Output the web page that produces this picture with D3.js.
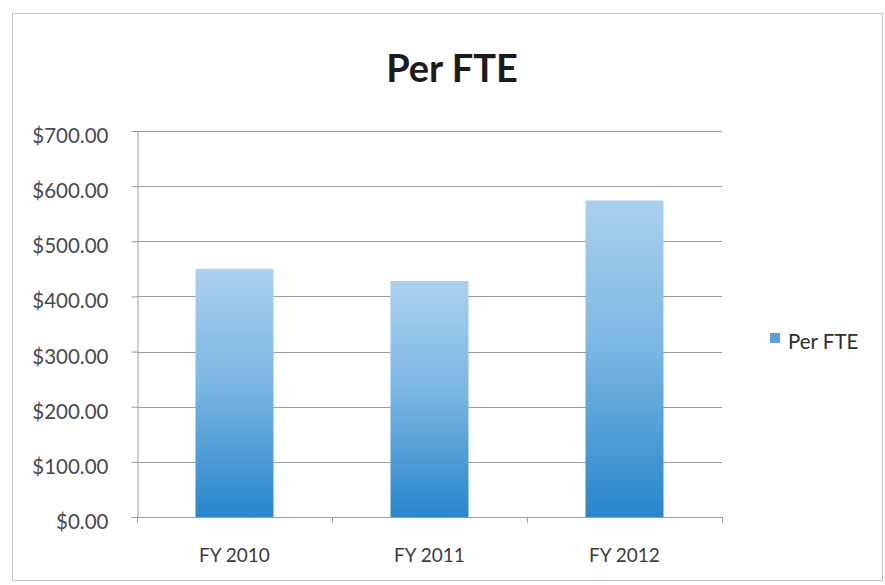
<!DOCTYPE html>
<html>
<head>
<meta charset="utf-8">
<script src="https://cdn.jsdelivr.net/npm/d3@7"></script>
<style>
  html, body { margin: 0; padding: 0; background: #ffffff; }
  svg { display: block; }
  text { font-family: Lato, "Open Sans", sans-serif; }
</style>
</head>
<body>
<svg id="chart" width="885" height="585"></svg>
<script>
// Chart data
const categories = ["FY 2010", "FY 2011", "FY 2012"];
const perFTE = [450, 428, 574];
const yTicks = [0, 100, 200, 300, 400, 500, 600, 700];
const seriesName = "Per FTE";
const chartTitle = "Per FTE";

const svg = d3.select("#chart");
const plot = { left: 137, right: 722, top: 131, bottom: 517 };

// Outer frame
svg.append("rect")
  .attr("x", 12.5).attr("y", 13.5)
  .attr("width", 870).attr("height", 567)
  .attr("fill", "#ffffff")
  .attr("stroke", "#c4c4c4").attr("stroke-width", 1);

// Bar gradient: light at the top, deeper blue at the base
const defs = svg.append("defs");
const grad = defs.append("linearGradient")
  .attr("id", "barGrad")
  .attr("x1", 0).attr("y1", 0).attr("x2", 0).attr("y2", 1);
grad.append("stop").attr("offset", "0%").attr("stop-color", "#abd0ee");
grad.append("stop").attr("offset", "45%").attr("stop-color", "#7db8e3");
grad.append("stop").attr("offset", "100%").attr("stop-color", "#2886cb");

const x = d3.scaleBand()
  .domain(categories)
  .range([plot.left, plot.right])
  .paddingInner(0.6).paddingOuter(0.3);

const y = d3.scaleLinear()
  .domain([0, 700])
  .range([plot.bottom, plot.top]);

// Horizontal gridlines
svg.append("g")
  .selectAll("line")
  .data(yTicks.filter(d => d > 0))
  .join("line")
  .attr("x1", plot.left).attr("x2", plot.right)
  .attr("y1", d => Math.round(y(d)) + 0.5)
  .attr("y2", d => Math.round(y(d)) + 0.5)
  .attr("stroke", "#9d9d9d").attr("stroke-width", 1);

// Y axis
const fmt = d => "$" + d3.format(".2f")(d);
const yAxis = svg.append("g")
  .attr("transform", `translate(${plot.left + 0.5},0)`)
  .call(d3.axisLeft(y).tickValues(yTicks).tickFormat(fmt).tickSize(6).tickPadding(23));
yAxis.select(".domain").attr("stroke", "#9d9d9d");
yAxis.selectAll(".tick line").attr("stroke", "#9d9d9d");
yAxis.selectAll(".tick text")
  .attr("fill", "#4a4a4a")
  .attr("transform", "translate(0,5)")
  .style("font-size", "20.5px")
  .style("font-family", "Lato, 'Open Sans', sans-serif");

// Bars
svg.append("g")
  .selectAll("rect")
  .data(perFTE)
  .join("rect")
  .attr("x", (d, i) => x(categories[i]))
  .attr("width", x.bandwidth())
  .attr("y", d => y(d))
  .attr("height", d => y(0) - y(d))
  .attr("fill", "url(#barGrad)");

// X axis
const bandEdges = [plot.left, ...categories.map(c => x(c) + x.bandwidth() / 2 + x.step() / 2)];
const xg = svg.append("g");
xg.append("line")
  .attr("x1", plot.left).attr("x2", plot.right)
  .attr("y1", plot.bottom + 0.5).attr("y2", plot.bottom + 0.5)
  .attr("stroke", "#9d9d9d");
xg.selectAll("line.tk")
  .data(bandEdges)
  .join("line")
  .attr("class", "tk")
  .attr("x1", d => Math.round(d) + 0.5).attr("x2", d => Math.round(d) + 0.5)
  .attr("y1", plot.bottom).attr("y2", plot.bottom + 6)
  .attr("stroke", "#9d9d9d");
xg.selectAll("text")
  .data(categories)
  .join("text")
  .attr("x", d => x(d) + x.bandwidth() / 2)
  .attr("y", 562)
  .attr("text-anchor", "middle")
  .attr("fill", "#3c3c3c")
  .style("font-size", "19px")
  .text(d => d);

// Title
svg.append("text")
  .attr("x", 452).attr("y", 82)
  .attr("text-anchor", "middle")
  .attr("fill", "#1c1c1c")
  .style("font-size", "38px")
  .style("font-weight", "bold")
  .text(chartTitle);

// Legend
const lg = svg.append("g").attr("transform", "translate(770,333)");
lg.append("rect")
  .attr("width", 10).attr("height", 10)
  .attr("fill", "#5c9fd8");
lg.append("text")
  .attr("x", 18).attr("y", 16)
  .attr("fill", "#2e2e2e")
  .style("font-size", "20.5px")
  .text(seriesName);
</script>
</body>
</html>
